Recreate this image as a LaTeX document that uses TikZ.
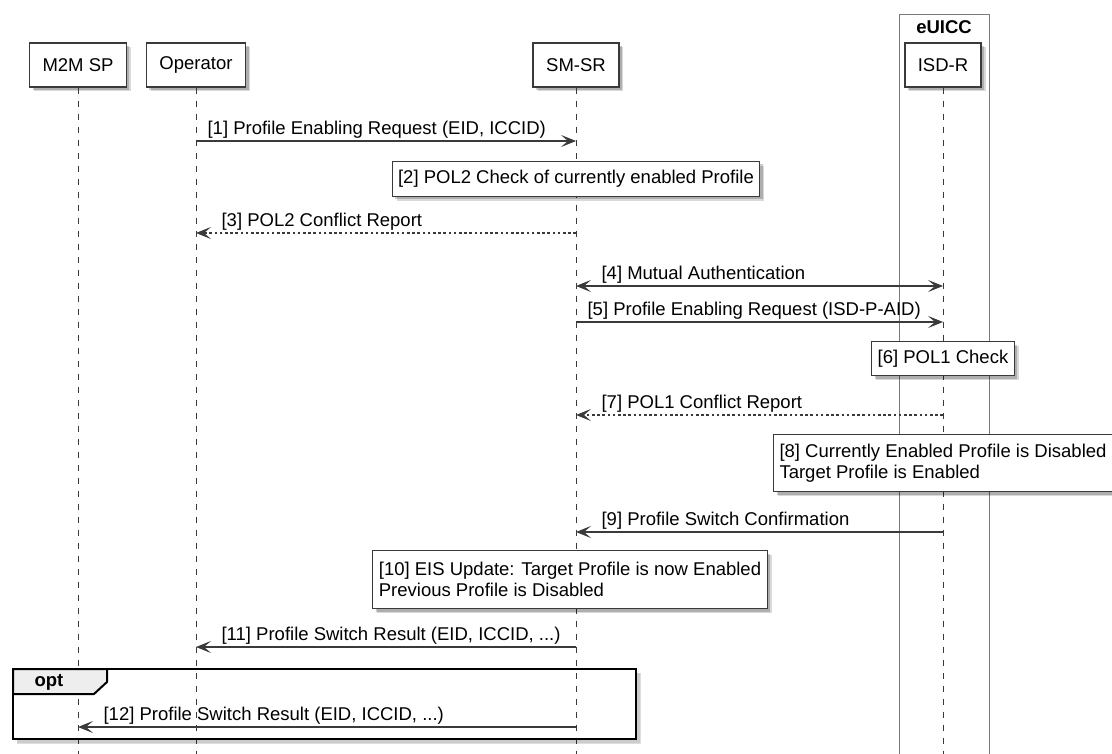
\documentclass[tikz,border=0pt]{standalone}
\usepackage{fontspec}
\setmainfont{Liberation Sans}
\usetikzlibrary{arrows.meta,shadows,positioning,calc}
\definecolor{liniengrau}{HTML}{3A3A3A}
\definecolor{boxgrau}{HTML}{7A7A7A}
\definecolor{reitergrau}{HTML}{EEEEEE}
\newcommand{\schrift}{\fontsize{18.5}{20.5}\selectfont}
\tikzset{
  schatten/.style={drop shadow={shadow xshift=4.5pt,shadow yshift=-4.5pt,opacity=.15,fill=black},
                   drop shadow={shadow xshift=3pt,shadow yshift=-3pt,opacity=.2,fill=black}},
  teilnehmer/.style={draw=liniengrau,fill=white,line width=1.4pt,inner xsep=13pt,minimum height=44pt,font=\schrift,schatten},
  notiz/.style={draw=liniengrau,fill=white,line width=1pt,inner xsep=6pt,align=left,font=\schrift,schatten},
  lebenslinie/.style={liniengrau,line width=.9pt,dash pattern=on 6.5pt off 6.5pt},
  nachricht/.style={liniengrau,line width=1.2pt,-{Stealth[length=15pt,width=12pt,inset=7pt]}},
  beidseitig/.style={nachricht,{Stealth[length=15pt,width=12pt,inset=7pt]}-{Stealth[length=15pt,width=12pt,inset=7pt]}},
  antwort/.style={nachricht,dash pattern=on 2.6pt off 2.6pt},
  beschriftung/.style={font=\schrift,text=black,inner sep=0pt,anchor=base west,yshift=6.5pt},
  etikettR/.style={beschriftung,pos=0,xshift=11pt},
  etikettL/.style={beschriftung,pos=1,xshift=25pt},
}
\begin{document}
\begin{tikzpicture}[x=1pt,y=-1pt]
\useasboundingbox (0,0) rectangle (1112,754);
%x-Werte der Lebenslinien (in px des Originals)
  \pgfmathsetmacro{\xSP}{78}
  \pgfmathsetmacro{\xOp}{196}
  \pgfmathsetmacro{\xSR}{576}
  \pgfmathsetmacro{\xISD}{943}
%eUICC-Kasten
\draw[boxgrau,line width=.9pt] (899,760) -- (899,14) -- (989,14) -- (989,760);
\node[font=\schrift\bfseries,inner sep=0pt] (euicc) at (944,27) {eUICC};
%Teilnehmer
\node[teilnehmer] (sp) at (\xSP,65) {M2M SP};
\node[teilnehmer] (op) at (\xOp,65) {Operator};
\node[teilnehmer] (sr) at (\xSR,65) {SM-SR};
\node[teilnehmer] (isd) at (\xISD,65) {ISD-R};
\foreach \t in {sp,op,sr,isd}{
\draw[lebenslinie] (\t.south) -- (\t.south |- 0,760);
}
%Punkte auf den Lebenslinien, je Nachricht eine Zeile
\foreach \n/\y in {1/141,3/233,4/286,5/322,7/415,9/532,11/647,12/727}{
  \foreach \t/\x in {sp/\xSP,op/\xOp,sr/\xSR,isd/\xISD}{
    \coordinate (\t\n) at (\x,\y);
  }
}
\draw[nachricht] (op1) -- (sr1) node[etikettR] (t1) {[1] Profile Enabling Request (EID, ICCID)};
\draw[antwort] (sr3) -- (op3) node[etikettL] (t3) {[3] POL2 Conflict Report};
\draw[beidseitig] (sr4) -- (isd4) node[beschriftung,pos=0,xshift=25pt] (t4) {[4] Mutual Authentication};
\draw[nachricht] (sr5) -- (isd5) node[etikettR] (t5) {[5] Profile Enabling Request (ISD-P-AID)};
\draw[antwort] (isd7) -- (sr7) node[etikettL] (t7) {[7] POL1 Conflict Report};
\draw[nachricht] (isd9) -- (sr9) node[etikettL] (t9) {[9] Profile Switch Confirmation};
\draw[nachricht] (sr11) -- (op11) node[etikettL] (t11) {[11] Profile Switch Result (EID, ICCID, ...)};
%Notizen
\node[notiz,minimum height=35pt,anchor=north] (n2) at (\xSR,161) {[2] POL2 Check of currently enabled Profile};
\node[notiz,minimum height=34pt,anchor=north] (n6) at (\xISD,341) {[6] POL1 Check};
\node[notiz,minimum height=57pt,anchor=north] (n8) at (\xISD,434) {[8] Currently Enabled Profile is Disabled\\Target Profile is Enabled};
\node[notiz,minimum height=58pt,anchor=north] (n10) at (570,550) {[10] EIS Update: Target Profile is now Enabled\\Previous Profile is Disabled};
%opt-Rahmen
\fill[black,opacity=.2] (636,673) rectangle (640.5,743.5) (17,739) rectangle (640.5,743.5);
\draw[black,line width=2.6pt] (13,669) rectangle (636,739);
\filldraw[fill=reitergrau,draw=black,line width=2pt] (13,669) -- (107,669) -- (107,682) -- (94,694) -- (13,694) -- cycle;
\node[font=\schrift\bfseries,inner sep=0pt] (opt) at (49,682) {opt};
\draw[nachricht] (sr12) -- (sp12) node[etikettL] (t12) {[12] Profile Switch Result (EID, ICCID, ...)};
\end{tikzpicture}
\end{document}
